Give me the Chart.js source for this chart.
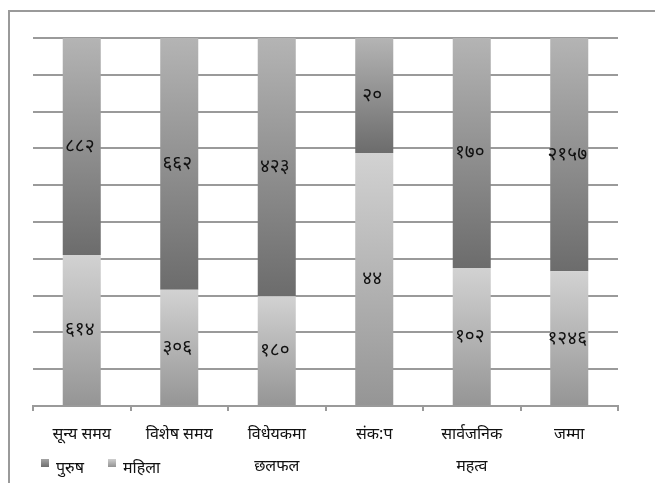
<!DOCTYPE html>
<html>
<head>
<meta charset="utf-8">
<script src="https://cdn.jsdelivr.net/npm/chart.js@4"></script>
<style>
  html, body { margin: 0; padding: 0; background: #fff; }
  #wrap { width: 655px; height: 483px; position: relative; }
</style>
</head>
<body>
<div id="wrap"><canvas id="myChart"></canvas></div>
<script>
const categories = ['सून्य समय', 'विशेष समय', ['विधेयकमा', 'छलफल'], 'संक:प', ['सार्वजनिक', 'महत्व'], 'जम्मा'];
const purush = [882, 662, 423, 20, 170, 2157];
const mahila = [614, 306, 180, 44, 102, 1246];
const seriesNames = ['पुरुष', 'महिला'];

const DIGITS = '०१२३४५६७८९';
function toNepali(n) {
  return String(n).split('').map(d => DIGITS[+d]).join('');
}

// stacked to 100%
const mahilaPct = mahila.map((v, i) => v / (v + purush[i]) * 100);
const purushPct = purush.map((v, i) => v / (v + mahila[i]) * 100);

const FONT = "'Noto Sans', 'DejaVu Serif', serif";

function segGrad(context, top, bottom) {
  const chart = context.chart;
  const area = chart.chartArea;
  if (!area) return top;
  const i = context.dataIndex;
  let lo, hi;
  if (context.datasetIndex === 0) { lo = 0; hi = mahilaPct[i]; }
  else { lo = mahilaPct[i]; hi = 100; }
  const y = chart.scales.y;
  const g = chart.ctx.createLinearGradient(0, y.getPixelForValue(hi), 0, y.getPixelForValue(lo));
  g.addColorStop(0, top);
  g.addColorStop(1, bottom);
  return g;
}

const frame = {
  id: 'frame',
  beforeDraw(chart) {
    const c = chart.ctx;
    c.save();
    c.strokeStyle = '#9a9a9a';
    c.lineWidth = 2;
    c.beginPath();
    c.moveTo(9, chart.height);
    c.lineTo(9, 11);
    c.lineTo(chart.width, 11);
    c.stroke();
    c.restore();
  }
};

const valueLabels = {
  id: 'valueLabels',
  afterDatasetsDraw(chart) {
    const c = chart.ctx;
    c.save();
    c.fillStyle = '#111';
    c.font = '19px ' + FONT;
    c.textAlign = 'center';
    c.textBaseline = 'middle';
    const raw = [mahila, purush];
    chart.data.datasets.forEach((ds, di) => {
      chart.getDatasetMeta(di).data.forEach((bar, i) => {
        const mid = (bar.y + bar.base) / 2;
        c.fillText(toNepali(raw[di][i]), bar.x - 2, mid);
      });
    });
    c.restore();
  }
};

const customLegend = {
  id: 'customLegend',
  afterDraw(chart) {
    const c = chart.ctx;
    c.save();
    c.font = 'italic 16px ' + FONT;
    c.textBaseline = 'middle';
    const items = [
      { text: seriesNames[0], x: 41, top: '#a5a5a5', bot: '#6e6e6e' },
      { text: seriesNames[1], x: 108, top: '#cfcfcf', bot: '#939393' }
    ];
    const yc = 465;
    items.forEach(it => {
      const g = c.createLinearGradient(0, yc - 6, 0, yc + 2);
      g.addColorStop(0, it.top);
      g.addColorStop(1, it.bot);
      c.fillStyle = g;
      c.fillRect(it.x, yc - 6, 8, 8);
      c.fillStyle = '#111';
      c.fillText(it.text, it.x + 15, yc + 3);
    });
    c.restore();
  }
};

new Chart(document.querySelector('#myChart'), {
  type: 'bar',
  data: {
    labels: categories,
    datasets: [
      {
        label: seriesNames[1],
        data: mahilaPct,
        backgroundColor: ctx => segGrad(ctx, '#d2d2d2', '#959595'),
        barPercentage: 0.39,
        categoryPercentage: 1
      },
      {
        label: seriesNames[0],
        data: purushPct,
        backgroundColor: ctx => segGrad(ctx, '#b4b4b4', '#6c6c6c'),
        barPercentage: 0.39,
        categoryPercentage: 1
      }
    ]
  },
  options: {
    responsive: true,
    maintainAspectRatio: false,
    animation: false,
    layout: { padding: { left: 33, right: 37, top: 38, bottom: -6 } },
    plugins: {
      legend: { display: false },
      tooltip: { enabled: false }
    },
    scales: {
      x: {
        stacked: true,
        grid: {
          offset: true,
          drawOnChartArea: false,
          drawTicks: true,
          tickLength: 5,
          color: '#9a9a9a',
          lineWidth: 2
        },
        border: { color: '#9a9a9a', width: 2 },
        ticks: {
          color: '#111',
          font: { family: FONT, size: 16, lineHeight: 2 },
          maxRotation: 0,
          autoSkip: false,
          padding: 7
        }
      },
      y: {
        stacked: true,
        min: 0,
        max: 100,
        ticks: { display: false, stepSize: 10 },
        grid: { color: '#9a9a9a', lineWidth: 2, drawTicks: false },
        border: { display: false }
      }
    }
  },
  plugins: [frame, valueLabels, customLegend]
});
</script>
</body>
</html>
